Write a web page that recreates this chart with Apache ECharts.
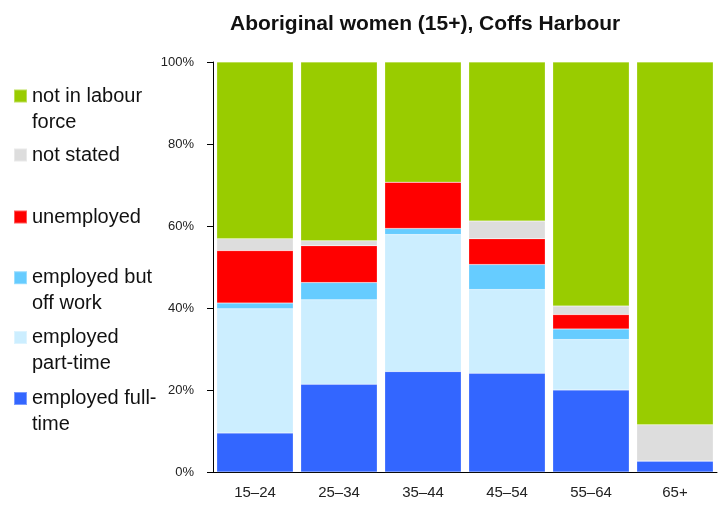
<!DOCTYPE html>
<html lang="en">
    <head>
        <meta charset="UTF-8">
        <script src="https://cdn.jsdelivr.net/npm/echarts@6/dist/echarts.min.js"></script>
        <title>Aboriginal women (15+), Coffs Harbour</title>
        <style>
            body { margin: 0; background: #fff; }
        </style>
    </head>
    <body>
        <div id="chart" style="width: 727px; height: 506px;"></div>
    </body>
    <script>
        // age groups
        var ageGroups = ["15–24", "25–34", "35–44", "45–54", "55–64", "65+"];
        // percent of women in each group
        var fullTime   = [9.5, 21.4, 24.5, 24.1, 20.0, 2.7];
        var partTime   = [30.3, 20.6, 33.4, 20.4, 12.3, 0];
        var offWork    = [1.4, 4.2, 1.5, 6.1, 2.6, 0];
        var unemployed = [12.8, 9.0, 11.3, 6.3, 3.5, 0];
        var notStated  = [2.9, 1.2, 0, 4.3, 2.1, 8.8];
        var notInLF    = [43.1, 43.6, 29.3, 38.8, 59.5, 88.5];
        var yTicks = [0, 20, 40, 60, 80, 100];

        var font = "'Liberation Sans', Arial, sans-serif";

        var seriesDefs = [
            { name: "employed full-time", data: fullTime, color: "#3366ff", label: "employed full-\ntime", top: 359.5 },
            { name: "employed part-time", data: partTime, color: "#cceeff", label: "employed\npart-time", top: 298.5 },
            { name: "employed but off work", data: offWork, color: "#66ccff", label: "employed but\noff work", top: 238.7 },
            { name: "unemployed", data: unemployed, color: "#ff0000", label: "unemployed", top: 204 },
            { name: "not stated", data: notStated, color: "#dddddd", label: "not stated", top: 142 },
            { name: "not in labour force", data: notInLF, color: "#99cc00", label: "not in labour\nforce", top: 57 }
        ];

        var myChart = echarts.init(document.getElementById("chart"));

        // one legend per entry so the spacing can follow the original
        // two-line labels get an empty first line so the square sits on the first text line
        var legends = seriesDefs.map(function (s) {
            var twoLines = s.label.indexOf("\n") >= 0;
            return {
                data: [s.name],
                orient: "vertical",
                left: 13,
                top: s.top,
                padding: 0,
                itemWidth: 13,
                itemHeight: 13,
                selectedMode: false,
                icon: "rect",
                formatter: function () { return twoLines ? " \n" + s.label : s.label; },
                textStyle: {
                    fontFamily: font,
                    fontSize: 20,
                    lineHeight: 26,
                    color: "#111"
                }
            };
        });

        var option = {
            animation: false,
            backgroundColor: "#fff",
            textStyle: { fontFamily: font },
            title: {
                text: "Aboriginal women (15+), Coffs Harbour",
                left: 225,
                top: 9,
                textStyle: { fontFamily: font, fontSize: 21, fontWeight: "bold", color: "#111" }
            },
            legend: legends,
            grid: { left: 213, right: 10, top: 62, bottom: 34 },
            xAxis: {
                type: "category",
                data: ageGroups,
                axisLine: { lineStyle: { color: "#000", width: 1 } },
                axisTick: { length: 5, lineStyle: { color: "#000" } },
                axisLabel: { fontFamily: font, fontSize: 15, color: "#222", margin: 13 }
            },
            yAxis: {
                type: "value",
                min: yTicks[0],
                max: yTicks[yTicks.length - 1],
                interval: 20,
                splitLine: { show: false },
                axisLine: { show: true, lineStyle: { color: "#000", width: 1 } },
                axisTick: { show: true, length: 6, lineStyle: { color: "#000" } },
                axisLabel: { fontFamily: font, fontSize: 13, color: "#222", margin: 19, formatter: "{value}%" }
            },
            series: seriesDefs.map(function (s) {
                return {
                    name: s.name,
                    type: "bar",
                    stack: "total",
                    data: s.data,
                    barCategoryGap: "9%",
                    itemStyle: { color: s.color, borderColor: "rgba(255,255,255,0.35)", borderWidth: 0.5 }
                };
            })
        };
        myChart.setOption(option);
    </script>
</html>
